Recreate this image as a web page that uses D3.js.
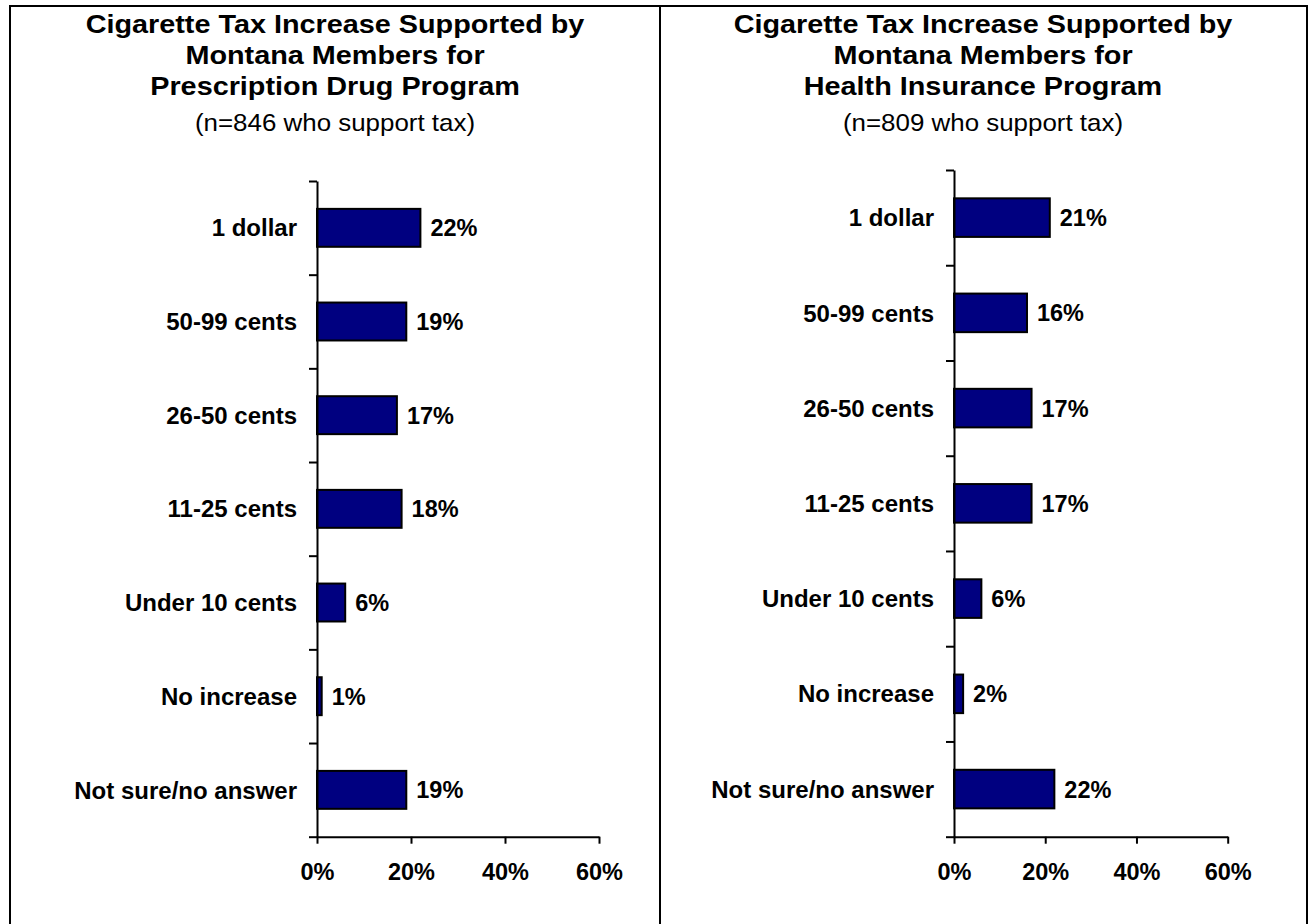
<!DOCTYPE html>
<html>
<head>
<meta charset="utf-8">
<script src="https://cdn.jsdelivr.net/npm/d3@7"></script>
<style>
  html, body { margin: 0; padding: 0; background: #fff; }
  svg { display: block; font-family: "Liberation Sans", Arial, Helvetica, sans-serif; }
</style>
</head>
<body>
<svg id="chart" width="1309" height="924"></svg>
<script>
// Survey answers: how much of a cigarette tax increase members support
const categories = ["1 dollar", "50-99 cents", "26-50 cents", "11-25 cents",
                    "Under 10 cents", "No increase", "Not sure/no answer"];
const drugValues = [22, 19, 17, 18, 6, 1, 19];       // Prescription Drug Program (n=846)
const insuranceValues = [21, 16, 17, 17, 6, 2, 22];  // Health Insurance Program (n=809)
const xTicks = [0, 20, 40, 60];

const drugTitle = ["Cigarette Tax Increase Supported by", "Montana Members for", "Prescription Drug Program"];
const drugSubtitle = "(n=846 who support tax)";
const insuranceTitle = ["Cigarette Tax Increase Supported by", "Montana Members for", "Health Insurance Program"];
const insuranceSubtitle = "(n=809 who support tax)";

const svg = d3.select("#chart");

// Frame: top rule, outer sides and the divider between the two panels
const frame = svg.append("g").attr("stroke", "#000").attr("stroke-width", 2);
frame.append("line").attr("x1", 9).attr("x2", 1308).attr("y1", 6).attr("y2", 6);
frame.append("line").attr("x1", 10).attr("x2", 10).attr("y1", 5).attr("y2", 924);
frame.append("line").attr("x1", 1307).attr("x2", 1307).attr("y1", 5).attr("y2", 924);
frame.append("line").attr("x1", 660).attr("x2", 660).attr("y1", 6).attr("y2", 924);

const panels = [
  { title: drugTitle, subtitle: drugSubtitle, values: drugValues,
    cx: 335, x0: 317, x1: 599, top: 181, bottom: 836.7 },
  { title: insuranceTitle, subtitle: insuranceSubtitle, values: insuranceValues,
    cx: 983, x0: 954, x1: 1227.7, top: 170, bottom: 836.7 }
];

panels.forEach(p => {
  const g = svg.append("g");

  // Titles
  const titleY = [32.5, 63.5, 95];
  p.title.forEach((line, i) => {
    g.append("text")
      .attr("transform", `translate(${p.cx},${titleY[i]}) scale(1.13,1)`)
      .attr("text-anchor", "middle")
      .attr("font-size", 25.5)
      .attr("font-weight", "bold")
      .attr("fill", "#000")
      .text(line);
  });
  g.append("text")
    .attr("transform", `translate(${p.cx},130.5) scale(1.08,1)`)
    .attr("text-anchor", "middle")
    .attr("font-size", 24)
    .attr("fill", "#000")
    .text(p.subtitle);

  // Scales
  const x = d3.scaleLinear().domain([0, 60]).range([p.x0, p.x1]);
  const y = d3.scaleBand().domain(categories).range([p.top, p.bottom])
    .paddingInner(0.595).paddingOuter(0.2975);
  const yEdges = d3.scaleLinear().domain([0, categories.length]).range([p.top, p.bottom]);

  // Bars
  g.append("g").selectAll("rect")
    .data(p.values)
    .join("rect")
      .attr("x", x(0))
      .attr("y", (d, i) => y(categories[i]))
      .attr("width", d => x(d) - x(0))
      .attr("height", y.bandwidth())
      .attr("fill", "#000080")
      .attr("stroke", "#000")
      .attr("stroke-width", 2);

  // Value labels
  g.append("g").selectAll("text")
    .data(p.values)
    .join("text")
      .attr("x", d => x(d) + 10)
      .attr("y", (d, i) => y(categories[i]) + y.bandwidth() / 2)
      .attr("dy", "0.36em")
      .attr("font-size", 23.5)
      .attr("font-weight", "bold")
      .attr("fill", "#000")
      .text(d => d + "%");

  // Category axis: ticks at the category boundaries
  const yAxis = g.append("g")
    .attr("transform", `translate(${x(0)},0)`)
    .call(d3.axisLeft(yEdges)
      .tickValues(d3.range(categories.length + 1))
      .tickSize(8).tickSizeOuter(0).tickFormat(""));
  yAxis.selectAll("path, line").attr("stroke", "#000").attr("stroke-width", 2);

  // Category labels
  g.append("g").selectAll("text")
    .data(categories)
    .join("text")
      .attr("x", x(0) - 20)
      .attr("y", d => y(d) + y.bandwidth() / 2)
      .attr("dy", "0.36em")
      .attr("text-anchor", "end")
      .attr("font-size", 24)
      .attr("font-weight", "bold")
      .attr("fill", "#000")
      .text(d => d);

  // Percentage axis
  const xAxis = g.append("g")
    .attr("transform", `translate(0,${p.bottom})`)
    .call(d3.axisBottom(x)
      .tickValues(xTicks)
      .tickSize(7).tickSizeOuter(0).tickPadding(20)
      .tickFormat(d => d + "%"));
  xAxis.selectAll("path, line").attr("stroke", "#000").attr("stroke-width", 2);
  xAxis.selectAll("text")
    .attr("font-size", 23.5)
    .attr("font-weight", "bold")
    .attr("fill", "#000")
    .attr("font-family", "Liberation Sans, Arial, sans-serif");
});
</script>
</body>
</html>
